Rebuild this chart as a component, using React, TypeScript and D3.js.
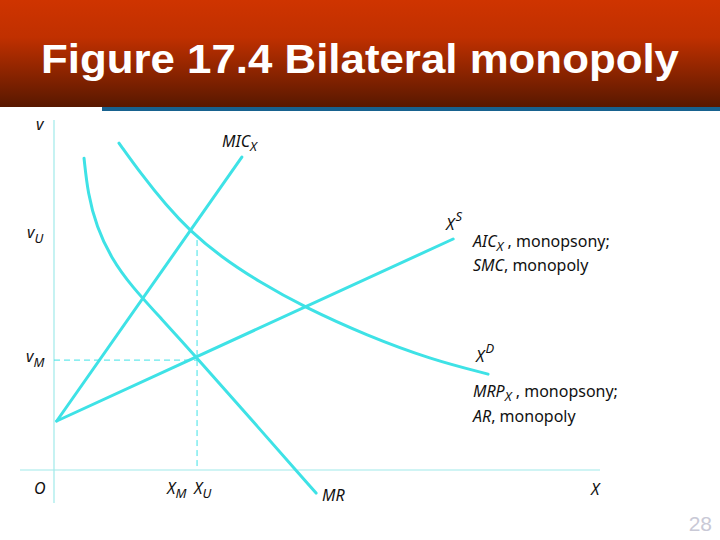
import * as d3 from "d3";

const W = 720;
const H = 540;

// data units: x 0..10, y 0..10 (origin at the plot's O)
const micX = [
  { x: 0.05, y: 1.4 },
  { x: 3.44, y: 8.94 },
];
const supplyXS = [
  { x: 0.05, y: 1.4 },
  { x: 7.31, y: 6.6 },
];
const mrCurve = [
  { x: 0.55, y: 8.91 },
  { x: 0.62, y: 7.9 },
  { x: 0.78, y: 6.95 },
  { x: 1.05, y: 6.05 },
  { x: 1.42, y: 5.25 },
  { x: 1.95, y: 4.35 },
  { x: 2.62, y: 3.2 },
  { x: 3.7, y: 1.29 },
  { x: 4.8, y: -0.66 },
];
const demandXD = [
  { x: 1.19, y: 9.34 },
  { x: 1.6, y: 8.45 },
  { x: 2.05, y: 7.57 },
  { x: 2.5, y: 6.82 },
  { x: 3.05, y: 6.1 },
  { x: 3.75, y: 5.38 },
  { x: 4.6, y: 4.64 },
  { x: 5.73, y: 3.84 },
  { x: 6.9, y: 3.16 },
  { x: 7.95, y: 2.74 },
];

const xU = 2.62; // X_M = X_U
const vU = 6.57;
const vM = 3.14;

type P = { x: number; y: number };

const CYAN = "#3ee2e6";
const AXIS = "#9fe9ea";
const TEXT_FONT = "'Noto Sans', 'Open Sans', sans-serif";

export default function App() {
  const x = d3.scaleLinear().domain([0, 10]).range([54, 600]);
  const y = d3.scaleLinear().domain([0, 10]).range([470, 120]);

  const straight = d3
    .line<P>()
    .x((d) => x(d.x))
    .y((d) => y(d.y));
  const smooth = d3
    .line<P>()
    .x((d) => x(d.x))
    .y((d) => y(d.y))
    .curve(d3.curveBasis);

  const lbl = {
    fontFamily: TEXT_FONT,
    fontSize: 16,
    fill: "#111",
  } as const;

  return (
    <svg
      width={W}
      height={H}
      style={{ position: "absolute", left: 0, top: 0, background: "#fff" }}
    >
      <defs>
        <linearGradient id="hdr" x1="0" x2="0" y1="0" y2="1">
          <stop offset="0%" stopColor="#cf3400" />
          <stop offset="35%" stopColor="#c03000" />
          <stop offset="100%" stopColor="#581800" />
        </linearGradient>
      </defs>

      {/* header */}
      <rect x={0} y={0} width={W} height={107} fill="url(#hdr)" />
      <rect x={102} y={107} width={W - 102} height={4} fill="#17628f" />
      <text
        x={360}
        y={73}
        textAnchor="middle"
        fill="#fff"
        fontFamily="'Liberation Sans', Arial, sans-serif"
        fontWeight="bold"
        fontSize={40}
        textLength={638}
        lengthAdjust="spacingAndGlyphs"
      >
        Figure 17.4 Bilateral monopoly
      </text>

      {/* axes */}
      <line x1={x(0)} x2={x(0)} y1={120} y2={503} stroke={AXIS} strokeWidth={1.2} />
      <line x1={20} x2={x(10)} y1={y(0)} y2={y(0)} stroke={AXIS} strokeWidth={1.2} />

      {/* dashed guides */}
      <line
        x1={x(xU)}
        x2={x(xU)}
        y1={y(vU)}
        y2={y(0)}
        stroke={CYAN}
        strokeWidth={1}
        strokeDasharray="6,4"
      />
      <line
        x1={x(0)}
        x2={x(xU)}
        y1={y(vM)}
        y2={y(vM)}
        stroke={CYAN}
        strokeWidth={1}
        strokeDasharray="6,4"
      />

      {/* curves */}
      <g fill="none" stroke={CYAN} strokeWidth={3} strokeLinecap="round">
        <path d={straight(micX) ?? ""} />
        <path d={straight(supplyXS) ?? ""} />
        <path d={smooth(mrCurve) ?? ""} />
        <path d={smooth(demandXD) ?? ""} />
      </g>

      {/* axis labels */}
      <g {...lbl} fontStyle="italic">
        <text x={36} y={130}>v</text>
        <text x={27} y={238}>
          v<tspan fontSize={13} dy={5}>U</tspan>
        </text>
        <text x={26} y={362}>
          v<tspan fontSize={13} dy={5}>M</tspan>
        </text>
        <text x={34} y={494}>O</text>
        <text x={167} y={494}>
          X<tspan fontSize={13} dy={4}>M</tspan>
        </text>
        <text x={194} y={494}>
          X<tspan fontSize={13} dy={4}>U</tspan>
        </text>
        <text x={322} y={501}>MR</text>
        <text x={591} y={495}>X</text>
        <text x={222} y={147}>
          MIC<tspan fontSize={13} dy={4}>X</tspan>
        </text>
        <text x={446} y={230}>
          X<tspan fontSize={13} dx={1} dy={-9}>S</tspan>
        </text>
        <text x={476} y={362}>
          X<tspan fontSize={13} dx={1} dy={-9}>D</tspan>
        </text>
      </g>

      {/* curve descriptions */}
      <g {...lbl}>
        <text x={473} y={247}>
          <tspan fontStyle="italic">AIC</tspan>
          <tspan fontStyle="italic" fontSize={13} dy={4}>X</tspan>
          <tspan dy={-4}> , monopsony;</tspan>
        </text>
        <text x={473} y={271}>
          <tspan fontStyle="italic">SMC</tspan>, monopoly
        </text>
        <text x={473} y={397}>
          <tspan fontStyle="italic">MRP</tspan>
          <tspan fontStyle="italic" fontSize={13} dy={4}>X</tspan>
          <tspan dy={-4}> , monopsony;</tspan>
        </text>
        <text x={473} y={422}>
          <tspan fontStyle="italic">AR</tspan>, monopoly
        </text>
      </g>

      {/* page number */}
      <text
        x={712}
        y={531}
        textAnchor="end"
        fill="#c9c9d6"
        fontFamily="'Liberation Sans', Arial, sans-serif"
        fontSize={21}
      >
        28
      </text>
    </svg>
  );
}
